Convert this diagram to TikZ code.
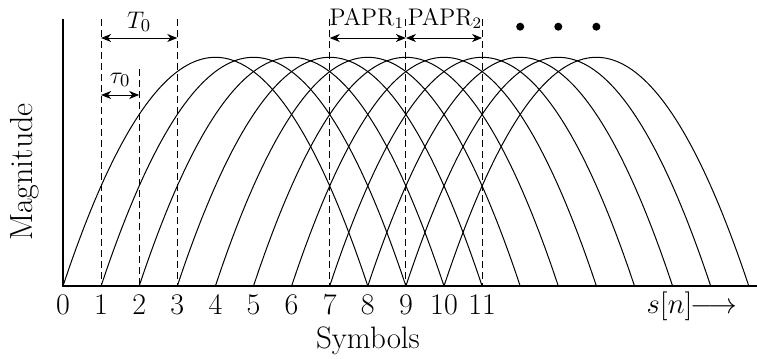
\documentclass[tikz,border=0pt]{standalone}
\usetikzlibrary{arrows.meta}
\begin{document}
\begin{tikzpicture}[x=0.5pt,y=-0.5pt,
  every node/.style={font=\fontsize{15}{18}\selectfont, inner sep=0pt},
  big/.style={font=\fontsize{15.5}{18}\selectfont},
  small/.style={font=\fontsize{13}{16}\selectfont},
  papr/.style={font=\fontsize{12}{14}\selectfont},
  curve/.style={line width=0.5pt},
  axisline/.style={line width=0.7pt},
  guide/.style={line width=0.5pt, dash pattern=on 3.5pt off 2pt},
  span/.style={line width=0.5pt, {Stealth[length=5pt,width=4pt,inset=1.5pt]}-{Stealth[length=5pt,width=4pt,inset=1.5pt]}},
  dot/.style={circle, fill=black, minimum size=4pt, inner sep=0pt}]
\useasboundingbox (0,0) rectangle (757,359);
\def\ox{63}\def\oy{286}\def\u{38.1}\def\h{228.7}
% axes
\coordinate (ytop) at (\ox,19);
\coordinate (o) at (\ox,\oy);
\coordinate (xend) at (757,\oy);
\draw[axisline] (ytop) -- (o) -- (xend);
% parabolic pulses
\foreach \k in {0,...,10}{
  \draw[curve] plot[domain=0:8, samples=49, smooth] ({\ox+\u*(\k+\x)}, {\oy-\h*\x*(8-\x)/16});
}
% tick labels
\foreach \i in {0,...,11}{
  \node[anchor=base] (t\i) at ({\ox+\u*\i},314) {\i};
  \coordinate (b\i) at ({\ox+\u*\i},\oy);
}
% dashed guides
\foreach \i in {1,3,7,9,11}{ \coordinate (g\i) at ({\ox+\u*\i},19); }
\coordinate (g2) at ({\ox+\u*2},69);
\foreach \i in {1,2,3,7,9,11}{ \draw[guide] (g\i) -- (b\i); }
% T0 and tau0
\coordinate (a1) at ({\ox+\u*1},38);
\coordinate (a3) at ({\ox+\u*3},38);
\draw[span] (a1) -- (a3);
\node[small, anchor=base] (T0) at ({\ox+\u*2},28) {$T_0$};
\coordinate (c1) at ({\ox+\u*1},95);
\coordinate (c2) at ({\ox+\u*2},95);
\draw[span] (c1) -- (c2);
\node[small, anchor=base] (tau0) at ({\ox+\u*1.5},83) {$\tau_0$};
% PAPR
\coordinate (p7) at ({\ox+\u*7},38);
\coordinate (p9) at ({\ox+\u*9},38);
\coordinate (p11) at ({\ox+\u*11},38);
\draw[span] (p7) -- (p9);
\draw[span] (p9) -- (p11);
\node[papr, anchor=base] (papr1) at ({\ox+\u*8-1},25) {PAPR$_1$};
\node[papr, anchor=base] (papr2) at ({\ox+\u*10+1},25) {PAPR$_2$};
% dots
\foreach \i in {12,13,14}{ \node[dot] (d\i) at ({\ox+\u*\i},26.7) {}; }
% labels
\node[anchor=base, font=\fontsize{14}{17}\selectfont] (sn) at (692,313) {$s[n]\!\!\longrightarrow$};
\node[big, anchor=base] (sym) at (368,348) {Symbols};
\node[rotate=90, font=\fontsize{16}{19}\selectfont] (mag) at (25,172) {Magnitude};
\end{tikzpicture}
\end{document}
